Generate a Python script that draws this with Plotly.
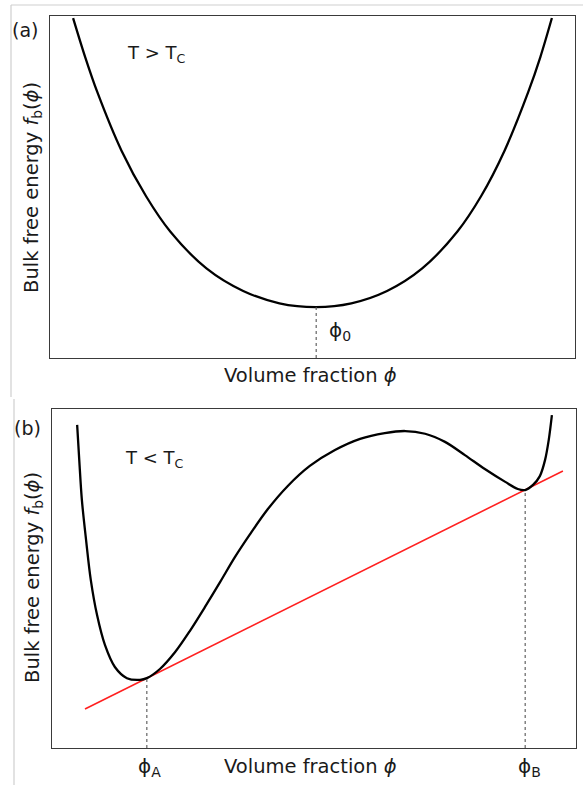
import plotly.graph_objects as go

W, H = 583, 785

# ---- Panel (a): T > Tc, single-well free energy ----
phi_a = [0.044, 0.067, 0.090, 0.136, 0.183, 0.229, 0.298, 0.368, 0.437, 0.507,
         0.574, 0.642, 0.709, 0.776, 0.821, 0.866, 0.911, 0.934, 0.956]
f_a = [0.994, 0.880, 0.778, 0.607, 0.473, 0.370, 0.262, 0.196, 0.160, 0.149,
       0.160, 0.196, 0.262, 0.370, 0.473, 0.607, 0.778, 0.880, 0.994]
phi0 = 0.507
f_phi0 = 0.149

# ---- Panel (b): T < Tc, double-well free energy ----
phi_b = [0.048, 0.052, 0.057, 0.065, 0.074, 0.086, 0.101, 0.120, 0.143, 0.168,
         0.181, 0.206, 0.235, 0.263, 0.292, 0.321, 0.349, 0.378, 0.412, 0.450,
         0.492, 0.540, 0.588, 0.635, 0.674, 0.712, 0.750, 0.788, 0.826, 0.865,
         0.889, 0.903, 0.918, 0.931, 0.941, 0.948, 0.954]
f_b = [0.953, 0.850, 0.732, 0.614, 0.496, 0.392, 0.304, 0.239, 0.206, 0.201,
       0.206, 0.233, 0.283, 0.345, 0.416, 0.490, 0.563, 0.631, 0.705, 0.773,
       0.832, 0.879, 0.912, 0.929, 0.935, 0.927, 0.903, 0.864, 0.823, 0.785,
       0.764, 0.761, 0.776, 0.802, 0.850, 0.909, 0.982]
phiA, f_phiA = 0.181, 0.206
phiB, f_phiB = 0.903, 0.761
# common tangent
tan_phi = [0.063, 0.975]
tan_f = [0.115, 0.817]

FONT = "DejaVu Sans"
TXT = "#1a1a1a"
AX = "#3a3a3a"


def px_x(p):
    return p / W


def px_y(p):
    return 1 - p / H


fig = go.Figure()

curve = dict(color="black", width=2.3, shape="spline", smoothing=0.9)
guide = dict(color="#555", width=1.1, dash="dot")

fig.add_trace(go.Scatter(x=phi_a, y=f_a, mode="lines", line=curve,
                         xaxis="x", yaxis="y", showlegend=False, hoverinfo="skip"))
fig.add_trace(go.Scatter(x=[phi0, phi0], y=[0, f_phi0], mode="lines", line=guide,
                         xaxis="x", yaxis="y", showlegend=False, hoverinfo="skip"))

fig.add_trace(go.Scatter(x=tan_phi, y=tan_f, mode="lines", line=dict(color="#ff2020", width=1.6),
                         xaxis="x2", yaxis="y2", showlegend=False, hoverinfo="skip"))
fig.add_trace(go.Scatter(x=phi_b, y=f_b, mode="lines", line=curve,
                         xaxis="x2", yaxis="y2", showlegend=False, hoverinfo="skip"))
fig.add_trace(go.Scatter(x=[phiA, phiA], y=[0, f_phiA], mode="lines", line=guide,
                         xaxis="x2", yaxis="y2", showlegend=False, hoverinfo="skip"))
fig.add_trace(go.Scatter(x=[phiB, phiB], y=[0, f_phiB], mode="lines", line=guide,
                         xaxis="x2", yaxis="y2", showlegend=False, hoverinfo="skip"))

ax_common = dict(range=[0, 1], showticklabels=False, showgrid=False, zeroline=False, ticks="",
                 showline=True, mirror=True, linecolor=AX, linewidth=1.4, fixedrange=True)

fig.update_layout(
    width=W, height=H,
    margin=dict(l=0, r=0, t=0, b=0),
    paper_bgcolor="white", plot_bgcolor="white",
    font=dict(family=FONT, color=TXT),
    xaxis=dict(domain=[px_x(50), px_x(575)], anchor="y", **ax_common),
    yaxis=dict(domain=[px_y(358), px_y(16)], anchor="x", **ax_common),
    xaxis2=dict(domain=[px_x(52), px_x(576)], anchor="y2", **ax_common),
    yaxis2=dict(domain=[px_y(748), px_y(409)], anchor="x2", **ax_common),
)

# light frame around the composite figure
frame = dict(type="line", xref="paper", yref="paper", line=dict(color="#cfcfcf", width=1.2))
fig.add_shape(x0=px_x(11), x1=1, y0=px_y(5), y1=px_y(5), **frame)
fig.add_shape(x0=px_x(11), x1=px_x(11), y0=px_y(5), y1=px_y(397), **frame)
fig.add_shape(x0=px_x(14), x1=px_x(14), y0=px_y(399), y1=0, **frame)

ytitle = "Bulk free energy <i>f</i><sub>b</sub>(<i>ϕ</i>)"
xtitle = "Volume fraction <i>ϕ</i>"


def ann(text, x, y, xref="paper", yref="paper", size=19.5, xanchor="center", **kw):
    fig.add_annotation(text=text, x=x, y=y, xref=xref, yref=yref, showarrow=False,
                       xanchor=xanchor, yanchor="middle",
                       font=dict(family=FONT, size=size, color=TXT), **kw)


# panel (a) labels
ann("(a)", px_x(25), px_y(30), size=19)
ann("T > T<sub>C</sub>", px_x(156), px_y(54), size=18)
ann("ϕ<sub>0</sub>", px_x(327), px_y(331), size=20, xanchor="left")
ann(xtitle, px_x(310), px_y(375))
ann(ytitle, px_x(33), px_y(188), textangle=-90)

# panel (b) labels
ann("(b)", px_x(27), px_y(428), size=19)
ann("T < T<sub>C</sub>", px_x(154), px_y(459), size=18)
ann("ϕ<sub>A</sub>", px_x(149), px_y(767), size=20)
ann("ϕ<sub>B</sub>", px_x(529), px_y(767), size=20)
ann(xtitle, px_x(310), px_y(766))
ann(ytitle, px_x(33), px_y(578), textangle=-90)

fig.write_html("out.html")
